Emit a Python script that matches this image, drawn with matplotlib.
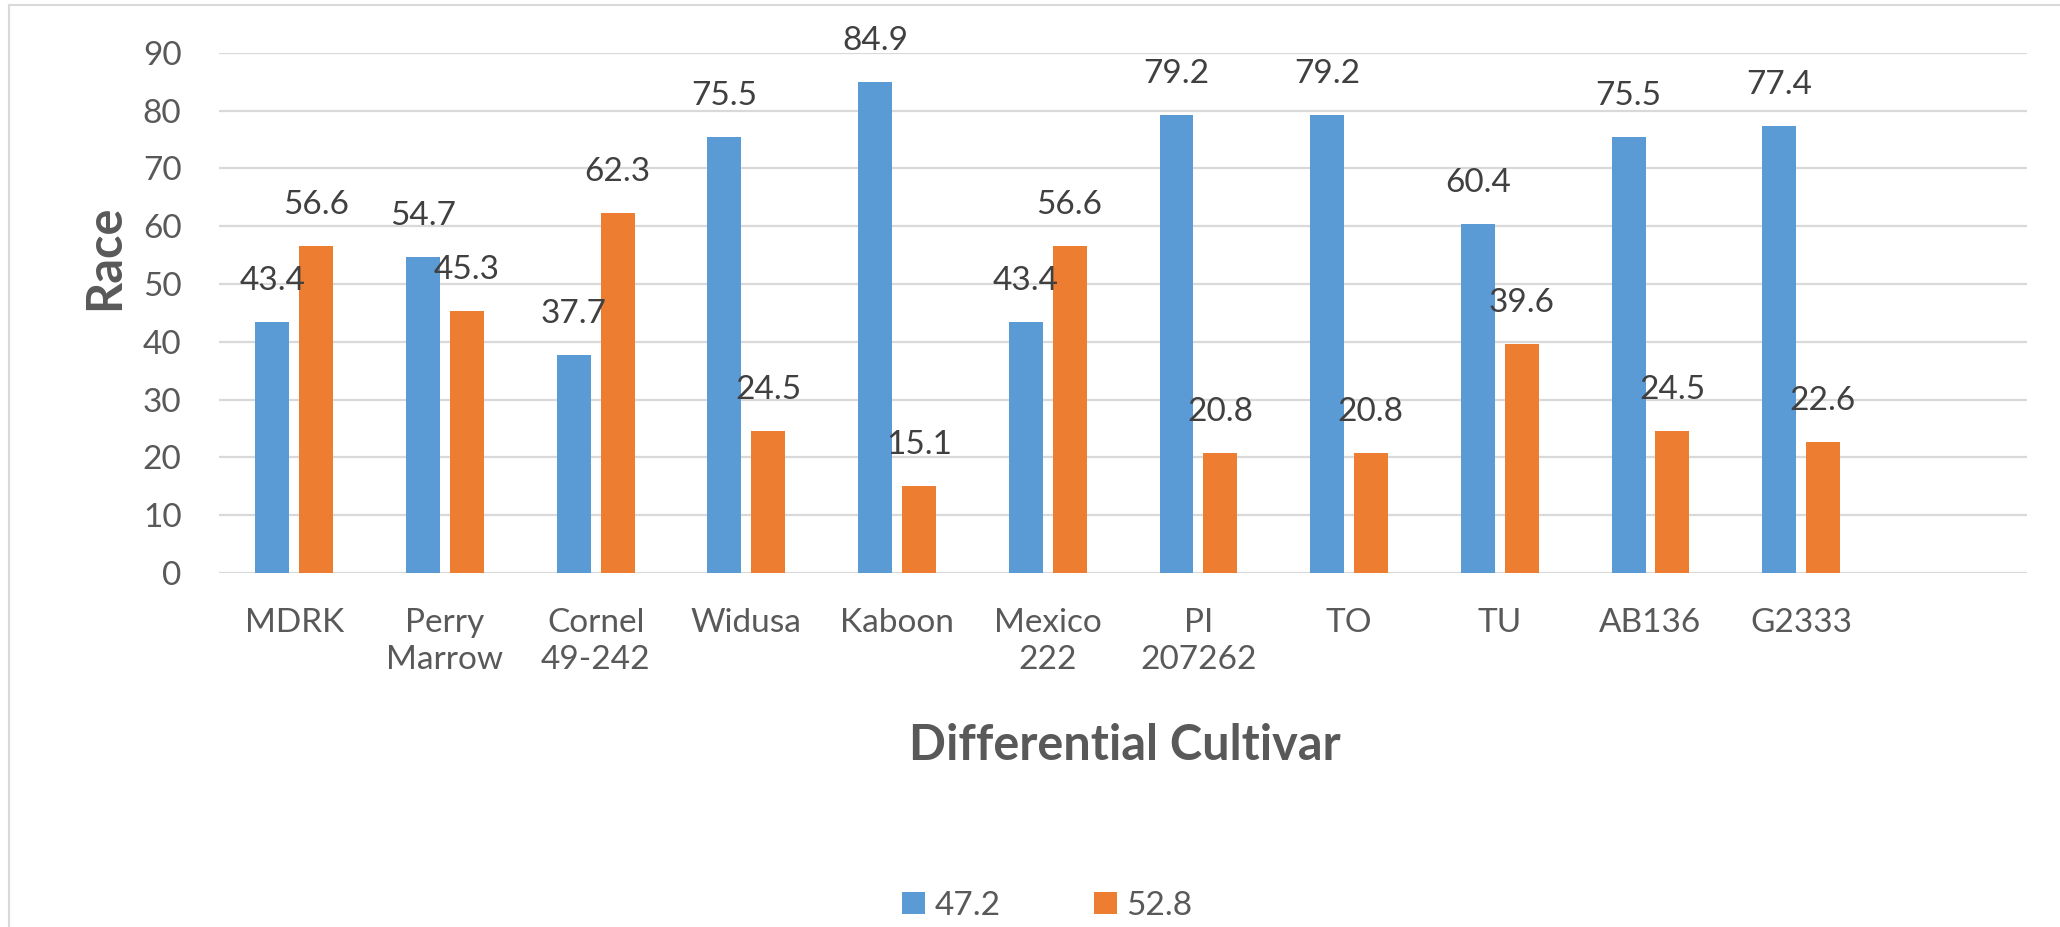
import matplotlib
matplotlib.use("Agg")
import matplotlib.pyplot as plt
import numpy as np
from matplotlib.lines import Line2D

# Cultivars and the two series (legend names are the series totals)
cultivars = ["MDRK", "Perry\nMarrow", "Cornel\n49-242", "Widusa", "Kaboon",
             "Mexico\n222", "PI\n207262", "TO", "TU", "AB136", "G2333"]
series_names = ["47.2", "52.8"]
values_a = [43.4, 54.7, 37.7, 75.5, 84.9, 43.4, 79.2, 79.2, 60.4, 75.5, 77.4]
values_b = [56.6, 45.3, 62.3, 24.5, 15.1, 56.6, 20.8, 20.8, 39.6, 24.5, 22.6]
y_ticks = list(range(0, 100, 10))

blue = "#5B9BD5"
orange = "#ED7D31"
grid_gray = "#D9D9D9"
text_gray = "#595959"
label_gray = "#404040"

plt.rcParams["font.family"] = ["Lato", "DejaVu Sans"]

fig = plt.figure(figsize=(20.6, 9.27), dpi=100)
ax = fig.add_axes([0.1063, 0.382, 0.8777, 0.561])

x = np.arange(len(cultivars))
bar_w = 0.2256
off = 0.145

bars_a = ax.bar(x - off, values_a, width=bar_w, color=blue, zorder=3, label=series_names[0])
bars_b = ax.bar(x + off, values_b, width=bar_w, color=orange, zorder=3, label=series_names[1])

# value labels above each bar
for bars, vals in ((bars_a, values_a), (bars_b, values_b)):
    for b, v in zip(bars, vals):
        ax.annotate(f"{v:.1f}", (b.get_x() + b.get_width() / 2, v),
                    xytext=(0, 29.5), textcoords="offset points",
                    ha="center", va="center", fontsize=24, color=label_gray, zorder=4)

# an empty twelfth slot is left on the right
ax.set_xlim(-0.5, 11.5)
ax.set_ylim(0, 90)
ax.set_yticks(y_ticks)
ax.set_xticks(x)
ax.set_xticklabels(cultivars, linespacing=1.3)
ax.tick_params(axis="y", length=0, pad=27, labelsize=24, labelcolor=text_gray)
ax.tick_params(axis="x", length=0, pad=25, labelsize=24, labelcolor=text_gray)

ax.grid(axis="y", color=grid_gray, linewidth=1.6, zorder=0)
for s in ax.spines.values():
    s.set_visible(False)

fig.text(1125 / 2060, 0.196, "Differential Cultivar", ha="center", va="center",
         fontsize=35, fontweight="bold", color=text_gray)
fig.text(105 / 2060, 1 - 257 / 927, "Race", ha="center", va="center", rotation=90,
         fontsize=35, fontweight="bold", color=text_gray)

fig.legend(handles=[bars_a, bars_b], labels=series_names, loc="center",
           bbox_to_anchor=(0.5085, 0.023), ncol=2, frameon=False,
           fontsize=24, labelcolor=text_gray, handlelength=0.67, handleheight=0.67,
           handletextpad=0.3, columnspacing=2.8)

# thin chart-area border (left and top edges)
fig.add_artist(Line2D([9 / 2060, 9 / 2060], [0, 1 - 4.5 / 927], color=grid_gray, linewidth=1.5))
fig.add_artist(Line2D([9 / 2060, 1], [1 - 4.5 / 927, 1 - 4.5 / 927], color=grid_gray, linewidth=1.5))

fig.savefig("out.png", dpi=100)
